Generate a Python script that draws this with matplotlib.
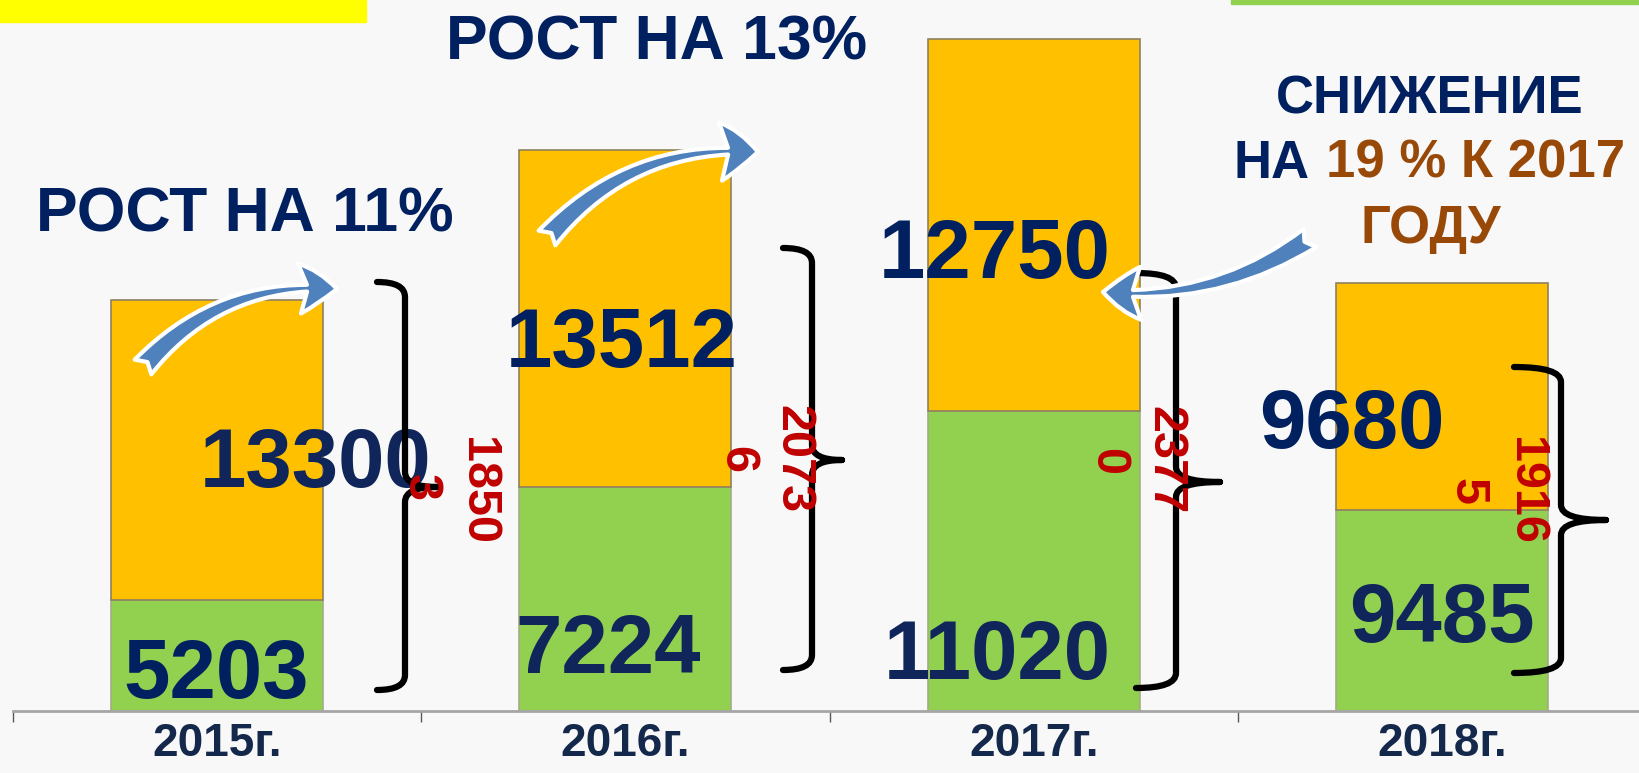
import matplotlib
matplotlib.use("Agg")
import matplotlib.pyplot as plt
from matplotlib.patches import FancyArrowPatch, Rectangle, PathPatch
from matplotlib.path import Path

plt.rcParams['font.family'] = ['Liberation Sans', 'DejaVu Sans']
plt.rcParams['font.weight'] = 'bold'

# данные
years = ['2015г.', '2016г.', '2017г.', '2018г.']
# высоты столбцов так, как они нарисованы (тыс.)
green_h = [5.0, 10.1, 13.5, 9.05]
orange_h = [13.5, 15.15, 16.75, 10.2]
# подписи на столбцах
green_labels = ['5203', '7224', '11020', '9485']
orange_labels = ['13300', '13512', '12750', '9680']
# итоги (перенос строки как на слайде)
total_main = ['1850', '2073', '2377', '1916']
total_tail = ['3', '6', '0', '5']

W, H = 1639, 773
NAVY = '#002060'
NAVY2 = '#10265a'
RED = '#c00000'
BROWN = '#984807'

fig = plt.figure(figsize=(W / 100, H / 100), dpi=100, facecolor='#f8f8f8')

x0 = 12.5      # левая граница оси
step = 408.5   # ширина категории
base = 711     # линия оси
ax = fig.add_axes([x0 / W, 1 - base / H, 1 - x0 / W, base / H])
ax.set_facecolor('none')
idx = list(range(len(years)))
ax.bar(idx, green_h, width=0.52, color='#92d050', edgecolor='#a3ad86',
       linewidth=1.2, zorder=2)
ax.bar(idx, orange_h, bottom=green_h, width=0.52, color='#ffc000',
       edgecolor='#8f8060', linewidth=1.2, zorder=2)
ax.set_xlim(-0.5, -0.5 + (W - x0) / step)
ax.set_ylim(0, base * 0.045)
for s in ['top', 'right', 'left']:
    ax.spines[s].set_visible(False)
ax.spines['bottom'].set_color('#a6a6a6')
ax.spines['bottom'].set_linewidth(2)
ax.set_yticks([])
ax.set_xticks(idx, years, fontsize=33, color='#14284b')
ax.set_xticks([-0.5, 0.5, 1.5, 2.5], minor=True)
ax.tick_params(axis='x', which='major', length=0, pad=8)
ax.tick_params(axis='x', which='minor', length=8, width=1, color='#595959')

# слой для надписей и оформления (пиксели, начало сверху слева)
ov = fig.add_axes([0, 0, 1, 1], zorder=3)
ov.set_xlim(0, W)
ov.set_ylim(H, 0)
ov.axis('off')

ov.add_patch(Rectangle((0, 0), 366, 22, color='#ffff00'))
ov.add_patch(Rectangle((1231, 0), 408, 4, color='#92d050'))

# подписи значений
green_pos = [(216, 698), (608, 673), (997, 679), (1442, 642)]
orange_pos = [(316, 487), (622, 367), (995, 278), (1352, 448)]
green_col = [NAVY, NAVY2, NAVY2, NAVY2]
orange_col = [NAVY2, NAVY, NAVY, NAVY]
for i in idx:
    ov.text(*green_pos[i], green_labels[i], fontsize=60, color=green_col[i],
            ha='center', va='baseline', zorder=4)
    ov.text(*orange_pos[i], orange_labels[i], fontsize=60, color=orange_col[i],
            ha='center', va='baseline', zorder=4)

# заголовки
ov.text(245, 231, 'РОСТ НА 11%', fontsize=45, color=NAVY, ha='center', va='baseline')
ov.text(657, 59, 'РОСТ НА 13%', fontsize=45, color=NAVY, ha='center', va='baseline')
ov.text(1430, 113, 'СНИЖЕНИЕ', fontsize=38, color=NAVY, ha='center', va='baseline')
ov.text(1310, 178, 'НА', fontsize=38, color=NAVY, ha='right', va='baseline')
ov.text(1326, 178, '19 % К 2017', fontsize=38, color=BROWN, ha='left', va='baseline')
ov.text(1431, 243, 'ГОДУ', fontsize=38, color=BROWN, ha='center', va='baseline')


def brace(xl, xv, xt, y0, ym, y1, r=15):
    verts = [(xl, y0), (xv, y0), (xv, y0 + r), (xv, ym - r), (xv, ym), (xt, ym),
             (xt, ym), (xv, ym), (xv, ym + r), (xv, y1 - r), (xv, y1), (xl, y1)]
    codes = [Path.MOVETO, Path.CURVE3, Path.CURVE3, Path.LINETO, Path.CURVE3, Path.CURVE3,
             Path.MOVETO, Path.CURVE3, Path.CURVE3, Path.LINETO, Path.CURVE3, Path.CURVE3]
    ov.add_patch(PathPatch(Path(verts, codes), facecolor='none', edgecolor='black',
                           linewidth=4.5, capstyle='round', zorder=5))


brace(377, 405, 437, 282, 487, 690)
brace(783, 812, 842, 248, 460, 670)
brace(1136, 1176, 1220, 273, 482, 688)
brace(1514, 1561, 1606, 367, 520, 673)

# итоговые числа (повернуты)
main_pos = [(477, 491), (793, 459), (1165, 460), (1525, 491)]
tail_pos = [(420, 488), (737, 460), (1108, 461), (1467, 491)]
for i in idx:
    ov.text(*main_pos[i], total_main[i], fontsize=35, color=RED, rotation=-90,
            ha='center', va='center', zorder=7)
    ov.text(*tail_pos[i], total_tail[i], fontsize=35, color=RED, rotation=-90,
            ha='center', va='center', zorder=7)


def arrow(p0, p1, rad, hw):
    a = FancyArrowPatch(p0, p1, connectionstyle=f'arc3,rad={rad}',
                        arrowstyle=f'fancy,head_length=1.35,head_width={hw},tail_width=0.8',
                        mutation_scale=20, facecolor='#4f81bd', edgecolor='white',
                        linewidth=3, shrinkA=0, shrinkB=0, zorder=6)
    ov.add_patch(a)


arrow((143, 367), (337, 289), -0.25, 1.8)
arrow((547, 238), (758, 152), -0.25, 2.1)
arrow((1310, 238), (1103, 292), -0.18, 1.9)

fig.savefig('out.png', dpi=100, facecolor=fig.get_facecolor())
